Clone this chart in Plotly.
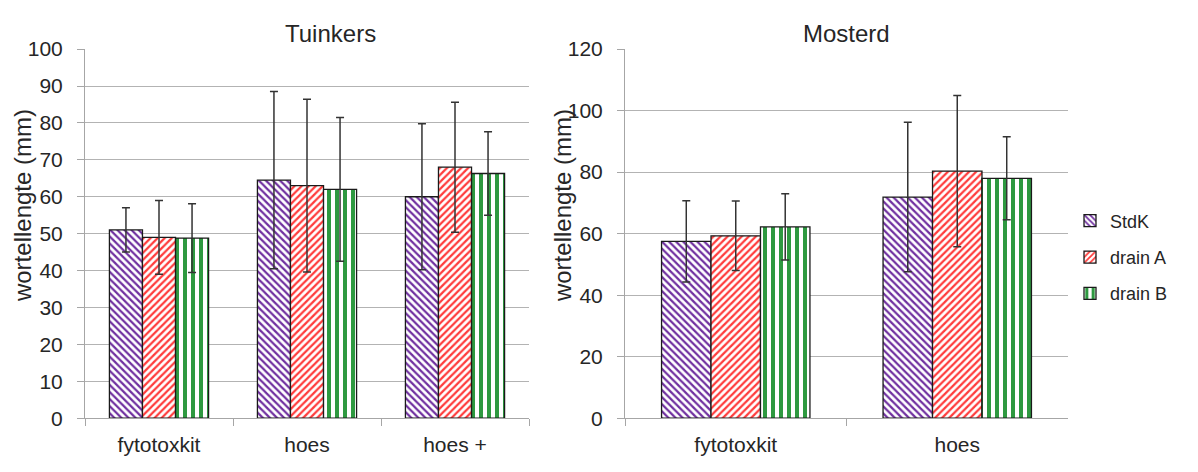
import plotly.graph_objects as go

series = ["StdK", "drain A", "drain B"]

cats_t = ["fytotoxkit", "hoes", "hoes +"]
tuin_stdk = [51.0, 64.5, 60.0]
tuin_drainA = [49.0, 63.0, 68.0]
tuin_drainB = [48.8, 62.0, 66.3]
tuin_err_stdk = [6.0, 24.0, 19.8]
tuin_err_drainA = [10.0, 23.4, 17.6]
tuin_err_drainB = [9.3, 19.5, 11.3]

cats_m = ["fytotoxkit", "hoes"]
most_stdk = [57.5, 71.9]
most_drainA = [59.3, 80.3]
most_drainB = [62.2, 78.0]
most_err_stdk = [13.2, 24.3]
most_err_drainA = [11.3, 24.6]
most_err_drainB = [10.8, 13.5]

W, H = 1198, 472
FONT = "Liberation Sans, Arial, sans-serif"
TXT = "#262626"

styles = [
    dict(shape="\\", fg="#7030A0", size=5, sol=0.45),
    dict(shape="/", fg="#FF3B3B", size=5, sol=0.45),
    dict(shape="|", fg="#2E9940", size=8, sol=0.5),
]

fig = go.Figure()

def add(cats, vals, errs, st, name, xa, ya, show):
    fig.add_trace(go.Bar(
        x=cats, y=vals, name=name, xaxis=xa, yaxis=ya, showlegend=show,
        legendgroup=name,
        marker=dict(color="white",
                    line=dict(color="#1a1a1a", width=1.3),
                    pattern=dict(shape=st["shape"], fgcolor=st["fg"], bgcolor="white",
                                 size=st["size"], solidity=st["sol"],
                                 fillmode="replace", fgopacity=1)),
        error_y=dict(type="data", array=errs, visible=True, color="#333333",
                     thickness=1.5, width=4),
    ))

t_vals = [tuin_stdk, tuin_drainA, tuin_drainB]
t_errs = [tuin_err_stdk, tuin_err_drainA, tuin_err_drainB]
m_vals = [most_stdk, most_drainA, most_drainB]
m_errs = [most_err_stdk, most_err_drainA, most_err_drainB]

for i in range(3):
    add(cats_t, t_vals[i], t_errs[i], styles[i], series[i], "x", "y", True)
for i in range(3):
    add(cats_m, m_vals[i], m_errs[i], styles[i], series[i], "x2", "y2", False)

def px(x):
    return x / W

def py(y):
    return (H - y) / H

ydom = [py(427), py(39)]
axis_common = dict(showline=True, linecolor="#A6A6A6", linewidth=1,
                   ticks="outside", tickcolor="#A6A6A6", ticklen=7,
                   tickfont=dict(family=FONT, size=21, color=TXT))
xaxis_common = dict(type="category", tickson="boundaries", ticklabelstandoff=8,
                    **axis_common)
yaxis_common = dict(showgrid=True, gridcolor="#B3B3B3", gridwidth=1, zeroline=False,
                    ticklabelstandoff=10, **axis_common)

fig.update_layout(
    width=W, height=H, margin=dict(l=0, r=0, t=0, b=0),
    paper_bgcolor="white", plot_bgcolor="white",
    barmode="group", bargap=0.33, bargroupgap=0,
    font=dict(family=FONT, color=TXT),
    xaxis=dict(domain=[px(85), px(529)], anchor="y", **xaxis_common),
    yaxis=dict(domain=ydom, range=[0, 100], dtick=10, anchor="x", **yaxis_common),
    xaxis2=dict(domain=[px(625), px(1068)], anchor="y2", **xaxis_common),
    yaxis2=dict(domain=ydom, range=[0, 120], dtick=20, anchor="x2", **yaxis_common),
    legend=dict(x=px(1070), y=py(258), xanchor="left", yanchor="middle",
                font=dict(family=FONT, size=18, color=TXT),
                bgcolor="rgba(0,0,0,0)", itemwidth=30, tracegroupgap=10,
                traceorder="grouped"),
    annotations=[
        dict(text="Tuinkers", x=px(330), y=py(23), xref="paper", yref="paper",
             showarrow=False, font=dict(family=FONT, size=24, color=TXT),
             xanchor="center", yanchor="middle"),
        dict(text="Mosterd", x=px(846), y=py(23), xref="paper", yref="paper",
             showarrow=False, font=dict(family=FONT, size=24, color=TXT),
             xanchor="center", yanchor="middle"),
        dict(text="wortellengte (mm)", x=px(22), y=py(204), xref="paper", yref="paper",
             showarrow=False, textangle=-90, font=dict(family=FONT, size=24, color=TXT),
             xanchor="center", yanchor="middle"),
        dict(text="wortellengte (mm)", x=px(562), y=py(204), xref="paper", yref="paper",
             showarrow=False, textangle=-90, font=dict(family=FONT, size=24, color=TXT),
             xanchor="center", yanchor="middle"),
    ],
)

fig.write_html("out.html", config={"displayModeBar": False},
               post_script="document.body.style.margin='0';document.body.style.overflow='hidden';")
